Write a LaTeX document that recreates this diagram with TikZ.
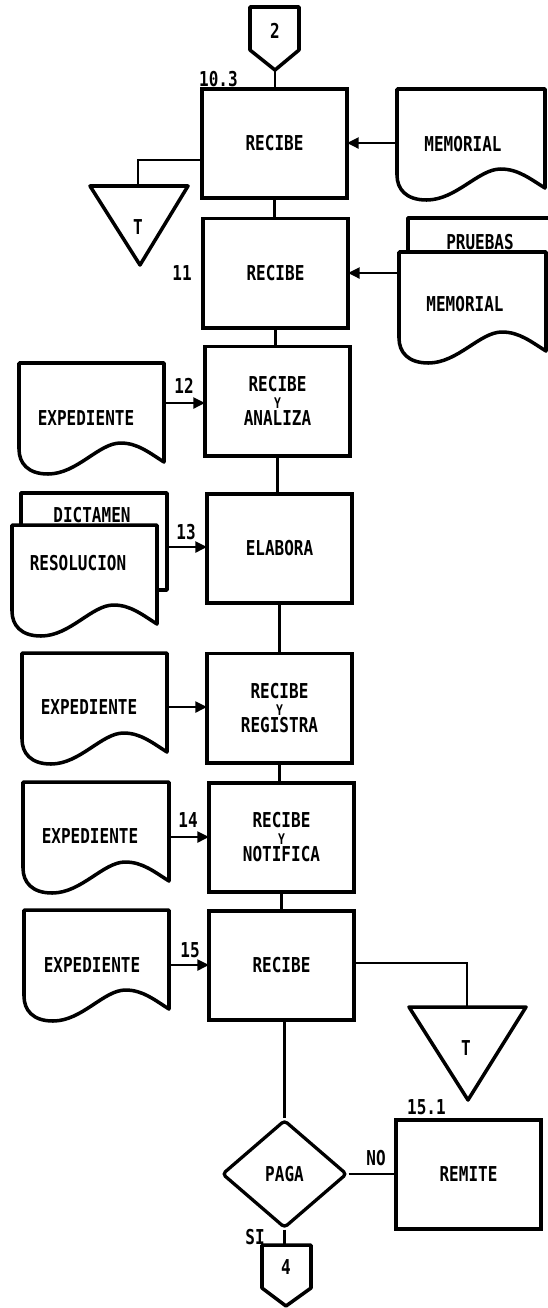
\documentclass[tikz,border=0pt]{standalone}
\usepackage{fontspec}
\newfontfamily\plotfont[FakeStretch=0.78]{DejaVu Sans Mono}
\newcommand\ysmall{\fontsize{12.5pt}{14.5pt}\selectfont}
\usetikzlibrary{arrows.meta,shapes.geometric}
\tikzset{
 txt/.style={font={\plotfont\bfseries\fontsize{17.5pt}{14.5pt}\selectfont}, inner sep=0pt, align=center},
 procbox/.style={txt, draw, line width=3.4pt, minimum width=4.35cm, minimum height=3.27cm, outer sep=0pt},
 conn/.style={line width=1.8pt},
 arr/.style={conn, -{Triangle[length=10pt,width=9.5pt]}},
 docline/.style={line width=3pt, line join=round, fill=white},
 shapeline/.style={line width=3pt, line join=round},
 pics/doc/.style={code={\draw[docline] (0,0) -- (#1,0) -- (#1,99)
   .. controls (0.9*#1,90) and (0.82*#1,80) .. (0.7*#1,80)
   .. controls (0.55*#1,80) and (0.4*#1,111) .. (0.2*#1,111)
   .. controls (0.06*#1,111) and (0,100) .. (0,86) -- cycle;}},
}
\begin{document}
\begin{tikzpicture}[x=0.03cm,y=-0.03cm]
\useasboundingbox (0,0) rectangle (547,1308);

% off-page connector 2
\draw[shapeline] (250,7) -- (299,7) -- (299,50) -- (275,70) -- (250,50) -- cycle;
\node[txt] (c2) at (275,31) {2};
\coordinate (c2tip) at (275,70);

% process boxes
\node[procbox] (b1) at (274.5,143.5) {RECIBE};
\node[procbox] (b2) at (275.5,273) {RECIBE};
\node[procbox] (b3) at (277.5,401) {RECIBE\\{\ysmall Y}\\ANALIZA};
\node[procbox] (b4) at (279.5,548.5) {ELABORA};
\node[procbox] (b5) at (279.5,708) {RECIBE\\{\ysmall Y}\\REGISTRA};
\node[procbox] (b6) at (281.5,837.5) {RECIBE\\{\ysmall Y}\\NOTIFICA};
\node[procbox] (b7) at (281.5,965.5) {RECIBE};
\node[procbox] (rem) at (468.5,1174) {REMITE};

% step labels
\node[txt, anchor=base west] (l103) at (199,86) {10.3};
\node[txt] (l11) at (182,273) {11};
\node[txt] (l12) at (184,386) {12};
\node[txt] (l13) at (186,532) {13};
\node[txt] (l14) at (188,820) {14};
\node[txt] (l15) at (190,950) {15};
\node[txt, anchor=base west] (l151) at (407,1114) {15.1};

% vertical flow
\draw[conn] (c2tip) -- (c2tip |- b1.north);
\draw[conn] (b1.south) -- (b1.south |- b2.north);
\draw[conn] (b2.south) -- (b2.south |- b3.north);
\draw[conn] (b3.south) -- (b3.south |- b4.north);
\draw[conn] (b4.south) -- (b4.south |- b5.north);
\draw[conn] (b5.south) -- (b5.south |- b6.north);
\draw[conn] (b6.south) -- (b6.south |- b7.north);

% archive triangles
\draw[shapeline] (90,186) -- (188,186) -- (140,265) -- cycle;
\node[txt] (t1) at (138,227) {T};
\coordinate (t1top) at (138,186);
\draw[conn] (b1.west |- 0,160) -| (t1top);

\draw[shapeline] (409,1007) -- (526,1007) -- (468,1100) -- cycle;
\node[txt] (t2) at (466,1048) {T};
\coordinate (t2top) at (467,1007);
\draw[conn] (b7.east |- 0,963) -| (t2top);

% documents
\pic at (397,89) {doc=148};
\node[txt] (mem1) at (463,144) {MEMORIAL};
\coordinate (mem1out) at (397,143);
\draw[arr] (mem1out) -- (mem1out -| b1.east);

\draw[docline] (408,218) rectangle (560,300);
\node[txt] (prue) at (480,242) {PRUEBAS};
\pic at (399,252) {doc=147};
\node[txt] (mem2) at (465,304) {MEMORIAL};
\coordinate (mem2out) at (399,273);
\draw[arr] (mem2out) -- (mem2out -| b2.east);

\pic at (19,363) {doc=145};
\node[txt] (exp1) at (86,418) {EXPEDIENTE};
\coordinate (exp1out) at (164,403);
\draw[arr] (exp1out) -- (exp1out -| b3.west);

\draw[docline] (21,493) rectangle (167,590);
\node[txt] (dict) at (92,515) {DICTAMEN};
\pic at (12,525) {doc=145};
\node[txt] (reso) at (78,563) {RESOLUCION};
\coordinate (dictout) at (167,547);
\draw[arr] (dictout) -- (dictout -| b4.west);

\pic at (22,653) {doc=145};
\node[txt] (exp2) at (89,707) {EXPEDIENTE};
\coordinate (exp2out) at (167,707);
\draw[arr] (exp2out) -- (exp2out -| b5.west);

\pic at (23,782) {doc=146};
\node[txt] (exp3) at (90,836) {EXPEDIENTE};
\coordinate (exp3out) at (169,837);
\draw[arr] (exp3out) -- (exp3out -| b6.west);

\pic at (24,910) {doc=145};
\node[txt] (exp4) at (92,965) {EXPEDIENTE};
\coordinate (exp4out) at (169,965);
\draw[arr] (exp4out) -- (exp4out -| b7.west);

% decision
\node[txt, draw, diamond, line width=2.8pt, minimum width=3.75cm, minimum height=3.24cm, rounded corners=3pt] (paga) at (284.5,1174) {PAGA};
\draw[conn] (paga.north |- b7.south) -- (paga.north);
\draw[conn] (paga.east) -- (paga.east -| rem.west);
\node[txt] (no) at (376,1158) {NO};

% off-page connector 4
\draw[shapeline] (262,1245) -- (311,1245) -- (311,1288) -- (286,1306) -- (262,1288) -- cycle;
\node[txt] (c4) at (286,1267) {4};
\coordinate (c4top) at (285,1245);
\draw[conn] (paga.south) -- (paga.south |- c4top);
\node[txt] (si) at (255,1237) {SI};
\end{tikzpicture}
\end{document}
